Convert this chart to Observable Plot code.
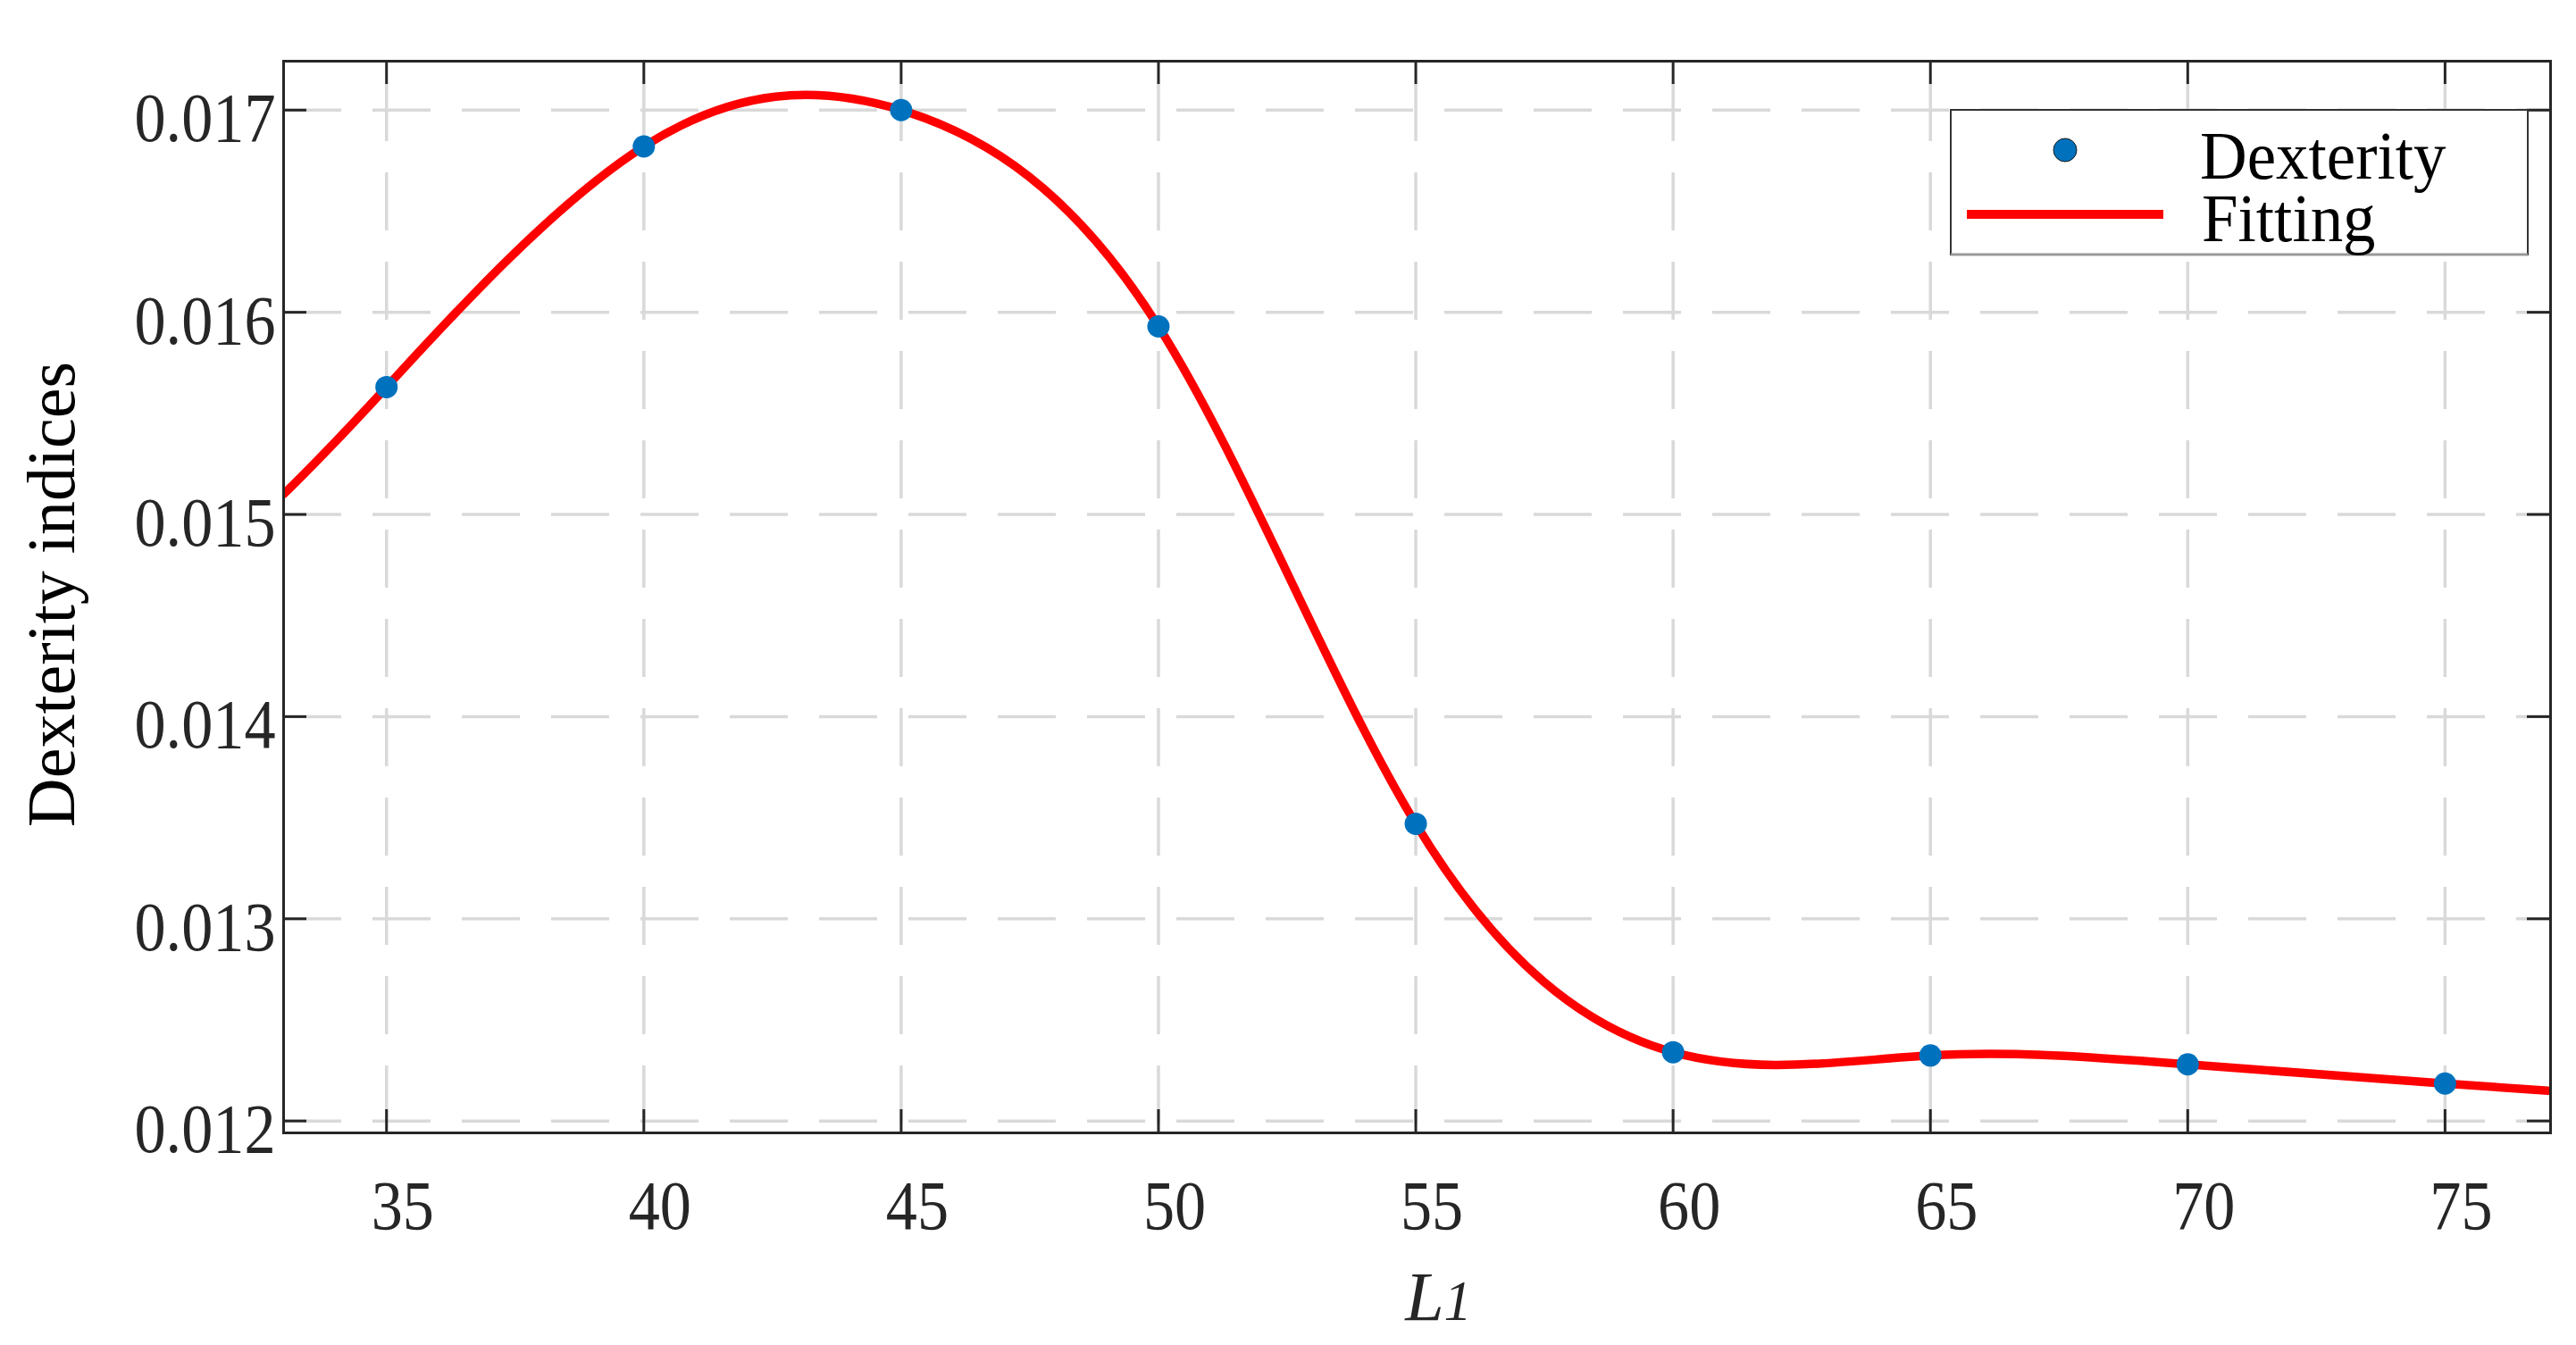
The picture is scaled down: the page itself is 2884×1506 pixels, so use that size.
<!DOCTYPE html>
<html>
<head>
<meta charset="utf-8">
<script src="https://cdn.jsdelivr.net/npm/d3@7"></script>
<script src="https://cdn.jsdelivr.net/npm/@observablehq/plot@0.6"></script>
<style>
  html, body { margin: 0; padding: 0; background: #fff; }
  #chart svg { display: block; }
</style>
</head>
<body>
<div id="chart"></div>
<script>
// ---- data ----
const xTicks = [35, 40, 45, 50, 55, 60, 65, 70, 75];
const yTicks = [0.012, 0.013, 0.014, 0.015, 0.016, 0.017];

// Dexterity samples (blue dots)
const dexX = [35, 40, 45, 50, 55, 60, 65, 70, 75];
const dexY = [0.01563, 0.01682, 0.01700, 0.01593, 0.01347, 0.01234, 0.012324, 0.01228, 0.012185];

// Fitting curve (red): knots read along the drawn spline, incl. its two ends at the frame edges
const fitX = [33, 35, 40, 45, 50, 55, 60, 65, 70, 75, 77];
const fitY = [0.01510, 0.01563, 0.01682, 0.01700, 0.01593, 0.01347, 0.01234, 0.012324, 0.01228, 0.012185, 0.01215];

const legendLabels = ["Dexterity", "Fitting"];
const xLabel = "L1";
const yLabel = "Dexterity indices";

// ---- tables ----
const dexterity = dexX.map((x, i) => ({x, y: dexY[i]}));
const fitting = fitX.map((x, i) => ({x, y: fitY[i]}));

// ---- layout ----
const W = 2884, H = 1506;
const mL = 317, mR = 29, mT = 68, mB = 238;
const frameW = W - mL - mR, frameH = H - mT - mB;
const FONT = "'Liberation Serif', 'Times New Roman', serif";
const INK = "#262626";
const tickLen = 26;

const chart = Plot.plot({
  width: W,
  height: H,
  marginLeft: mL,
  marginRight: mR,
  marginTop: mT,
  marginBottom: mB,
  style: {fontFamily: FONT, color: INK, background: "#fff"},
  x: {domain: [33, 77.05], axis: null},
  y: {domain: [0.011941, 0.017242], axis: null},
  marks: [
    // dashed grid
    Plot.ruleX(xTicks, {x: d => d, stroke: "#d9d9d9", strokeWidth: 3.5, strokeDasharray: "65,35", strokeDashoffset: 75}),
    Plot.ruleY(yTicks, {y: d => d, stroke: "#d9d9d9", strokeWidth: 3.5, strokeDasharray: "65,35"}),
    // fitted curve
    Plot.line(fitting, {x: "x", y: "y", stroke: "#ff0000", strokeWidth: 9.5, curve: "natural", clip: true}),
    // samples
    Plot.dot(dexterity, {x: "x", y: "y", r: 12.5, fill: "#0072BD", stroke: "none"}),
    // inward ticks on all four sides
    Plot.tickX(xTicks, {x: d => d, insetTop: frameH - tickLen, stroke: INK, strokeWidth: 3}),
    Plot.tickX(xTicks, {x: d => d, insetBottom: frameH - tickLen, stroke: INK, strokeWidth: 3}),
    Plot.tickY(yTicks, {y: d => d, insetRight: frameW - tickLen, stroke: INK, strokeWidth: 3}),
    Plot.tickY(yTicks, {y: d => d, insetLeft: frameW - tickLen, stroke: INK, strokeWidth: 3}),
    // box
    Plot.frame({stroke: INK, strokeWidth: 3}),
    // tick labels
    Plot.axisX({ticks: xTicks, tickSize: 0, tickPadding: 52, fontSize: 78, dx: 18, tickFormat: d => String(d), label: null, fill: INK}),
    Plot.axisY({ticks: yTicks, tickSize: 0, tickPadding: 9, fontSize: 78, dy: 10, tickFormat: d3.format(".3f"), label: null, fill: INK}),
    // axis titles
    Plot.text([yLabel], {frameAnchor: "left", rotate: -90, dx: -235, dy: -3, lineAnchor: "bottom", textAnchor: "middle", fontSize: 76, fill: "#000"}),
    Plot.text([xLabel], {frameAnchor: "bottom", dx: 24, dy: 209, lineAnchor: "bottom", textAnchor: "middle", fontSize: 78, fontStyle: "italic", fill: INK})
  ]
});

document.getElementById("chart").appendChild(chart);

const svg = d3.select(chart);

// x-axis title: L with a slightly smaller "1"
svg.selectAll("text").filter(function() { return this.textContent === xLabel; }).each(function() {
  const t = d3.select(this);
  t.text(null);
  t.append("tspan").text(xLabel.slice(0, 1));
  t.append("tspan").attr("font-size", "0.8em").text(xLabel.slice(1));
});

// the reference's tick labels are slightly condensed
svg.selectAll('g[aria-label="x-axis tick label"] text, g[aria-label="y-axis tick label"] text').each(function() {
  const L = this.getComputedTextLength();
  this.setAttribute("textLength", (L * 0.9).toFixed(1));
  this.setAttribute("lengthAdjust", "spacingAndGlyphs");
});

// ---- legend (inside the plot, upper right) ----
const lgX = W - mR - 671, lgY = mT + 55, lgW = 646, lgH = 162;
const lg = svg.append("g").attr("aria-label", "legend").attr("font-family", FONT).attr("text-anchor", "start");
lg.append("rect").attr("x", lgX).attr("y", lgY).attr("width", lgW).attr("height", lgH)
  .attr("fill", "#fff").attr("stroke", "#333").attr("stroke-width", 2);
lg.append("line").attr("x1", lgX).attr("x2", lgX + lgW).attr("y1", lgY + lgH).attr("y2", lgY + lgH)
  .attr("stroke", "#9a9a9a").attr("stroke-width", 3);
lg.append("circle").attr("cx", lgX + 128).attr("cy", lgY + 45).attr("r", 13)
  .attr("fill", "#0072BD").attr("stroke", "#1a1a1a").attr("stroke-width", 1);
lg.append("line").attr("x1", lgX + 18).attr("x2", lgX + 238).attr("y1", lgY + 117).attr("y2", lgY + 117)
  .attr("stroke", "#ff0000").attr("stroke-width", 10);
lg.append("text").attr("x", lgX + 279).attr("y", lgY + 77).attr("text-anchor", "start").attr("font-size", 76).attr("fill", "#000").text(legendLabels[0]);
lg.append("text").attr("x", lgX + 281).attr("y", lgY + 147).attr("text-anchor", "start").attr("font-size", 76).attr("fill", "#000").text(legendLabels[1]);
lg.selectAll("text").each(function() {
  const L = this.getComputedTextLength();
  this.setAttribute("textLength", (L * 0.96).toFixed(1));
  this.setAttribute("lengthAdjust", "spacingAndGlyphs");
});
</script>
</body>
</html>
